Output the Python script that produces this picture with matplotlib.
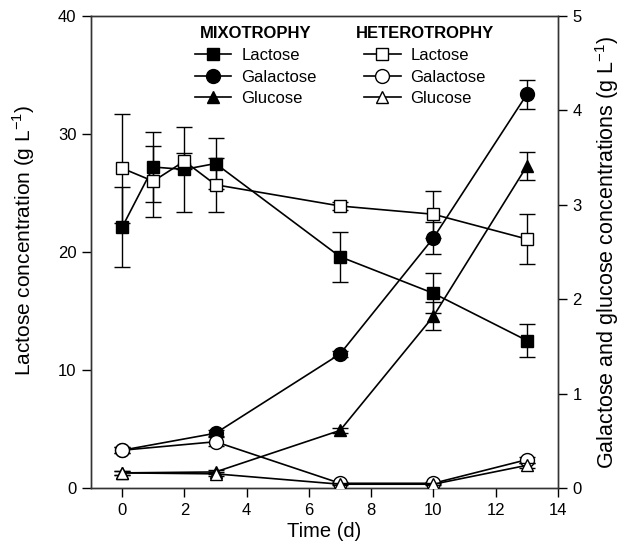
import matplotlib
matplotlib.use("Agg")
import matplotlib.pyplot as plt
from matplotlib.lines import Line2D

plt.rcParams['font.family'] = ['Liberation Sans', 'DejaVu Sans']

# Data
t = [0, 1, 2, 3, 7, 10, 13]
mixo_lac = [22.1, 27.2, 27.0, 27.5, 19.6, 16.5, 12.5]
mixo_lac_err = [3.4, 3.0, 3.6, 2.2, 2.1, 1.7, 1.4]
het_lac = [27.1, 26.0, 27.7, 25.7, 23.9, 23.2, 21.1]
het_lac_err = [4.6, 3.0, 0.7, 2.3, 0.3, 2.0, 2.1]

t_sug = [0, 3, 7, 10, 13]
mixo_gal = [0.40, 0.58, 1.42, 2.65, 4.17]
mixo_gal_err = [0.03, 0.03, 0.03, 0.17, 0.15]
mixo_glu = [0.16, 0.17, 0.61, 1.82, 3.41]
mixo_glu_err = [0.02, 0.02, 0.03, 0.15, 0.15]
het_gal = [0.40, 0.49, 0.05, 0.05, 0.30]
het_gal_err = [0.03, 0.05, 0.01, 0.01, 0.03]
het_glu = [0.16, 0.15, 0.04, 0.04, 0.24]
het_glu_err = [0.02, 0.02, 0.01, 0.01, 0.03]

fig = plt.figure(figsize=(6.25, 5.45), dpi=100)
ax = fig.add_axes([0.1456, 0.1046, 0.8928 - 0.1456, 0.9706 - 0.1046])
ax2 = ax.twinx()

ekw = dict(color='black', ecolor='black', elinewidth=1, capsize=6, capthick=1, lw=1.2, mec='black', mew=1)

ax.errorbar(t, mixo_lac, yerr=mixo_lac_err, marker='s', ms=8, mfc='black', zorder=3, **ekw)
ax.errorbar(t, het_lac, yerr=het_lac_err, marker='s', ms=8, mfc='white', zorder=4, **ekw)

ax2.errorbar(t_sug, mixo_gal, yerr=mixo_gal_err, marker='o', ms=10, mfc='black', zorder=3, **ekw)
ax2.errorbar(t_sug, mixo_glu, yerr=mixo_glu_err, marker='^', ms=9, mfc='black', zorder=3, **ekw)
ax2.errorbar(t_sug, het_gal, yerr=het_gal_err, marker='o', ms=10, mfc='white', zorder=4, **ekw)
ax2.errorbar(t_sug, het_glu, yerr=het_glu_err, marker='^', ms=9, mfc='white', zorder=5, **ekw)

ax.set_xlim(-1, 14)
ax.set_ylim(0, 40)
ax2.set_ylim(0, 5)
ax.set_xticks([0, 2, 4, 6, 8, 10, 12, 14])
ax.set_yticks([0, 10, 20, 30, 40])
ax2.set_yticks([0, 1, 2, 3, 4, 5])

for a in (ax, ax2):
    a.tick_params(direction='out', length=6.5, width=1, pad=4, labelsize=12, colors='black')
    for s in a.spines.values():
        s.set_linewidth(1)
        s.set_color('#333333')

ax.set_xlabel('Time (d)', fontsize=14.5, labelpad=3)
ax.set_ylabel('Lactose concentration (g L$^{\\mathregular{-1}}$)', fontsize=15)
ax.yaxis.set_label_coords(-0.115, 0.525)
ax2.set_ylabel('Galactose and glucose concentrations (g L$^{\\mathregular{-1}}$)', fontsize=15.5, labelpad=8)

def h(marker, fc, ms):
    return Line2D([], [], color='black', lw=1.2, marker=marker, ms=ms, mfc=fc, mec='black')

labels = ['Lactose', 'Galactose', 'Glucose']
leg1 = ax2.legend([h('s', 'black', 8), h('o', 'black', 10), h('^', 'black', 9)], labels,
                  title='MIXOTROPHY', loc='upper left', bbox_to_anchor=(0.19, 1.01),
                  frameon=False, fontsize=12, handlelength=2.2, labelspacing=0.4,
                  handletextpad=0.6, title_fontproperties={'weight': 'bold', 'size': 12})
ax2.add_artist(leg1)
leg2 = ax2.legend([h('s', 'white', 8), h('o', 'white', 10), h('^', 'white', 9)], labels,
                  title='HETEROTROPHY', loc='upper left', bbox_to_anchor=(0.535, 1.01),
                  frameon=False, fontsize=12, handlelength=2.2, labelspacing=0.4,
                  handletextpad=0.6, title_fontproperties={'weight': 'bold', 'size': 12})

fig.savefig('out.png', dpi=100)
